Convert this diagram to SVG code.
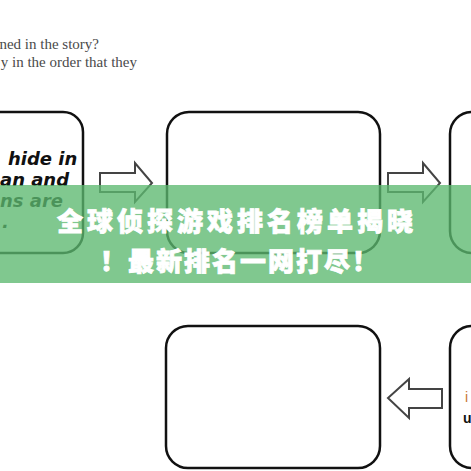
<svg xmlns="http://www.w3.org/2000/svg" width="471" height="471" viewBox="0 0 471 471">
<defs>
<style>
.box{fill:#fff;stroke:#111;stroke-width:2.5}
.arr{fill:#fff;stroke:#444;stroke-width:2;stroke-linejoin:miter}
.q{font-family:"Liberation Serif",serif;font-size:15px;fill:#4a4a4a}
.hand{font-family:"Comic Sans MS","DejaVu Sans",sans-serif;font-style:italic;font-weight:bold;font-size:18px;fill:#111}
.title{font-family:"Noto Sans CJK SC",sans-serif;font-weight:900;font-size:26px;fill:#fff;stroke:#fff;stroke-width:0.8;text-anchor:middle}
</style>
</defs>
<rect width="471" height="471" fill="#fff"/>
<g id="question">
<text class="q" x="99" y="49" text-anchor="end">ned in the story?</text>
<text class="q" x="137" y="67" text-anchor="end">y in the order that they</text>
</g>
<g id="box1">
<rect class="box" x="-150" y="112" width="233" height="141" rx="20"/>
<text class="hand" x="8" y="165">hide in</text>
<text class="hand" x="0" y="186">an and</text>
<text class="hand" x="0" y="207">ns are</text>
<text class="hand" x="2" y="228">.</text>
</g>
<g id="box2"><rect class="box" x="167" y="112" width="213" height="141" rx="22"/></g>
<g id="box3"><rect class="box" x="450" y="112" width="100" height="141" rx="22"/></g>
<g id="box4"><rect class="box" x="166" y="326" width="214" height="142" rx="22"/></g>
<g id="box5">
<rect class="box" x="450" y="326" width="100" height="142" rx="22"/>
<text x="465" y="402" font-family="'Liberation Sans',sans-serif" font-size="14" fill="#c87533">i</text>
<text x="463" y="423" font-family="'Liberation Sans',sans-serif" font-size="14" font-weight="bold" fill="#111">u</text>
</g>
<g id="connectors">
<polygon class="arr" points="100,173 135,173 135,163 152,183 135,202 135,192 100,192"/>
<polygon class="arr" points="388,173 423,173 423,163 440,183 423,202 423,192 388,192"/>
<polygon class="arr" points="442,389 409,389 409,379 388,398 409,418 409,408 442,408"/>
</g>
<g id="banner">
<rect x="0" y="185" width="471" height="98" fill="#5cb870" opacity="0.78"/>
<text class="title" x="237" y="231" letter-spacing="4">全球侦探游戏排名榜单揭晓</text>
<text class="title" x="240" y="271" letter-spacing="2">！最新排名一网打尽！</text>
</g>
</svg>
